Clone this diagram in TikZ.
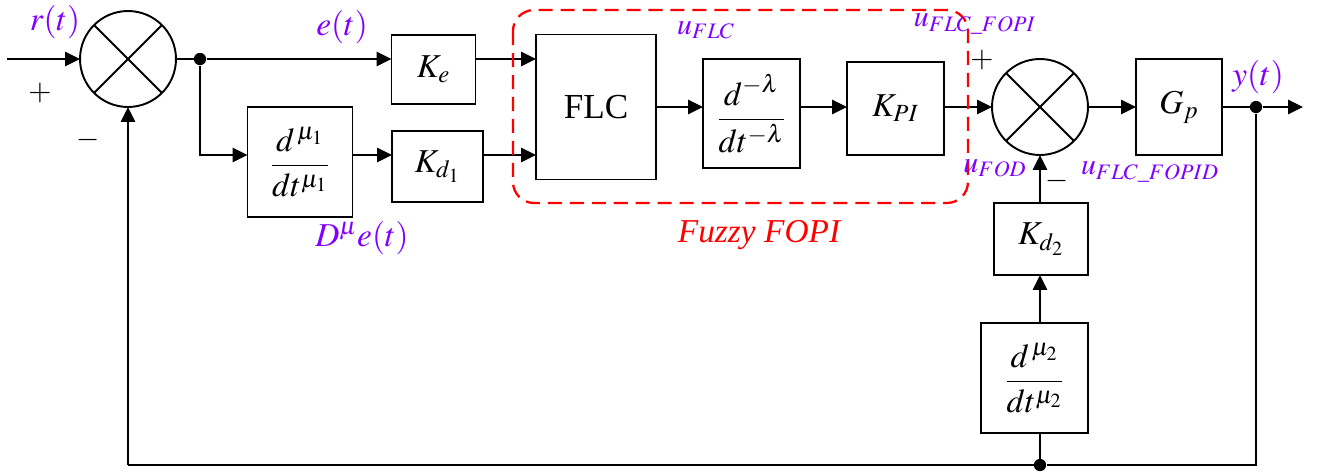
\documentclass[tikz,border=0pt]{standalone}
\usepackage{amsmath}
\usepackage{mathptmx}
\usepackage{fontspec}
\setmainfont{Liberation Serif}
\usetikzlibrary{arrows.meta,calc}
\definecolor{lblpurple}{RGB}{127,0,255}
\definecolor{fopired}{RGB}{255,0,0}
\begin{document}
\begin{tikzpicture}[x=0.02cm,y=-0.02cm,
  wire/.style={line width=1.6pt},
  arr/.style={wire,-{Triangle[length=8.5pt,width=8pt]}},
  blk/.style={draw,line width=1.1pt,inner sep=0pt,outer sep=0pt,font=\fontsize{19}{21}\selectfont},
  sumnode/.style={draw,circle,line width=1.1pt,minimum size=1.92cm,inner sep=0pt,outer sep=0pt},
  lbl/.style={text=lblpurple,inner sep=0pt,font=\fontsize{19}{21}\selectfont},
  ulbl/.style={lbl,font=\fontsize{17}{19}\selectfont},
  sgn/.style={inner sep=0pt,font=\fontsize{17}{19}\selectfont},
  dot/.style={circle,fill,inner sep=0pt,minimum size=7pt}]
\useasboundingbox (0,0) rectangle (1320,471);
% blocks
\node[sumnode] (s1) at (128,59) {};
\draw[line width=1.1pt] (s1.north west) -- (s1.south east) (s1.north east) -- (s1.south west);
\node[blk,minimum width=1.68cm,minimum height=1.38cm] (ke) at (433.5,69.5) {$K_e$};
\node[blk,minimum width=2.1cm,minimum height=2.2cm] (d1) at (300,162) {$\dfrac{d^{\,\mu_1}}{dt^{\mu_1}}$};
\node[blk,minimum width=1.82cm,minimum height=1.42cm] (kd1) at (437.5,166.5) {$K_{d_1}$};
\node[blk,minimum width=2.4cm,minimum height=2.9cm,font=\fontsize{20}{22}\selectfont] (flc) at (596,107) {FLC};
\node[blk,minimum width=1.94cm,minimum height=2.18cm] (dl) at (751.5,113.5) {$\dfrac{d^{-\lambda}}{dt^{-\lambda}}$};
\node[blk,minimum width=1.94cm,minimum height=1.86cm] (kpi) at (895.5,108.5) {$K_{PI}$};
\node[sumnode] (s2) at (1040,107) {};
\draw[line width=1.1pt] (s2.north west) -- (s2.south east) (s2.north east) -- (s2.south west);
\node[blk,minimum width=1.72cm,minimum height=1.92cm] (gp) at (1179,107) {$G_p$};
\node[blk,minimum width=1.88cm,minimum height=1.44cm] (kd2) at (1041,239) {$K_{d_2}$};
\node[blk,minimum width=2.14cm,minimum height=2.2cm] (d2) at (1034.5,378) {$\dfrac{d^{\,\mu_2}}{dt^{\mu_2}}$};
% coordinates
\coordinate (in) at (7,59);
\node[dot] (b1) at (200,59) {};
\coordinate (b1d) at (200,155);
\node[dot] (by) at (1256,107) {};
\coordinate (out) at (1303,107);
\coordinate (cr) at (1256,465);
\coordinate (cl) at (128,465);
\node[dot] (bd) at (1040,465) {};
% wires
\draw[arr] (in) -- (s1.west);
\draw[wire] (s1.east) -- (b1);
\draw[arr] (b1) -- (ke.west |- b1);
\draw[arr] (b1) |- (d1.west |- b1d);
\draw[arr] (d1.east |- b1d) -- (kd1.west |- b1d);
\draw[arr] (ke.east |- b1) -- (flc.west |- b1);
\draw[arr] (kd1.east |- b1d) -- (flc.west |- b1d);
\draw[arr] (flc.east |- s2) -- (dl.west |- s2);
\draw[arr] (dl.east |- s2) -- (kpi.west |- s2);
\draw[arr] (kpi.east |- s2) -- (s2.west);
\draw[arr] (s2.east) -- (gp.west);
\draw[wire] (gp.east) -- (by);
\draw[arr] (by) -- (out);
\draw[wire] (by) -- (cr) -- (bd) -- (cl);
\draw[arr] (cl) -- (s1.south);
\draw[wire] (bd) -- (bd |- d2.south);
\draw[arr] (bd |- d2.north) -- (bd |- kd2.south);
\draw[arr] (bd |- kd2.north) -- (s2.south);
% dashed group
\draw[fopired,line width=1.3pt,dash pattern=on 8pt off 4.5pt,rounded corners=12pt] (513,10) rectangle (968,203);
\node[text=fopired,inner sep=0pt,font=\fontsize{19}{21}\selectfont\itshape] (fz) at (759,235) {Fuzzy FOPI};
% labels
\node[lbl] (lr) at (55,22) {$r(t)$};
\node[lbl] (le) at (342,27) {$e(t)$};
\node[lbl] (ld) at (362,238) {$D^{\mu}e(t)$};
\node[ulbl] (lu1) at (706,30) {$u_{FLC}$};
\node[ulbl] (lu2) at (975,24) {$u_{FLC\_FOPI}$};
\node[ulbl] (lu3) at (995,168) {$u_{FOD}$};
\node[ulbl] (lu4) at (1150,172) {$u_{FLC\_FOPID}$};
\node[lbl] (ly) at (1258,77) {$y(t)$};
\node[sgn] (p1) at (40,93) {$+$};
\node[sgn] (m1) at (88,140) {$-$};
\node[sgn] (p2) at (982,60) {$+$};
\node[sgn] (m2) at (1057,181) {$-$};
\end{tikzpicture}
\end{document}
